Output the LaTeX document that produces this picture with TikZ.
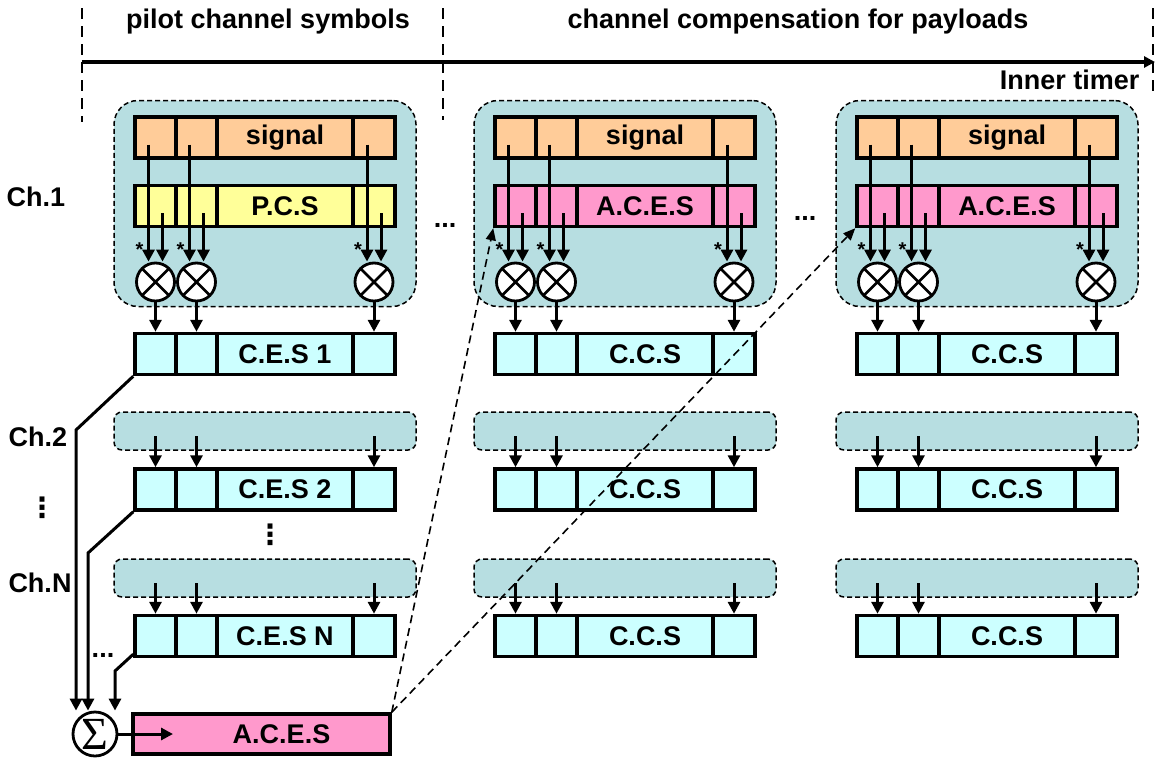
\documentclass[tikz,border=0pt]{standalone}
\usepackage{fontspec}
\setmainfont{Liberation Sans}
\newfontfamily\sigmafont{Liberation Serif}
\newfontfamily\dotsfont{DejaVu Sans}
\usetikzlibrary{arrows.meta,calc}

\definecolor{signalorange}{RGB}{255,204,153}
\definecolor{pcsyellow}{RGB}{255,255,153}
\definecolor{acespink}{RGB}{255,153,204}
\definecolor{cescyan}{RGB}{204,255,255}
\definecolor{groupteal}{RGB}{183,222,225}

\tikzset{
  every node/.style={font=\fontsize{27}{31}\selectfont\bfseries},
  cell/.style={draw, line width=3.5pt, minimum height=41, inner sep=0pt},
  group/.style={draw, dash pattern=on 5pt off 3pt, line width=1.5pt,
    rounded corners=24pt, fill=groupteal, inner sep=0pt},
  flatgroup/.style={group, rounded corners=8pt},
  mult/.style={circle, draw, line width=2.8pt, fill=white, minimum size=38pt,
    inner sep=0pt, path picture={
      \draw[line width=2.8pt] (path picture bounding box.north west) -- (path picture bounding box.south east)
        (path picture bounding box.north east) -- (path picture bounding box.south west);}},
  sumnode/.style={circle, draw, line width=2.8pt, minimum size=44pt, inner sep=0pt},
  conj/.style={font=\fontsize{20}{20}\selectfont\bfseries, inner sep=0pt},
  vdots/.style={inner sep=0pt, font=\dotsfont\fontsize{28}{28}\selectfont\bfseries},
  arr/.style={line width=3pt, -{Triangle[length=12pt,width=12pt]}},
  feed/.style={line width=3pt, -{Triangle[length=12pt,width=12pt]}},
  darr/.style={line width=1.6pt, dash pattern=on 8pt off 5pt, -{Triangle[length=12pt,width=10pt]}},
  timer/.style={line width=3.5pt, -{Triangle[length=11pt,width=11pt]}},
  mark line/.style={line width=2.2pt, dash pattern=on 11pt off 7pt},
}

% one bar of four cells: name, x offset, y centre, colour, text
\newcommand{\cellbar}[5]{%
  \node[cell, fill=#4, minimum width=41] (#1-1) at (#2+155.5,#3) {};
  \node[cell, fill=#4, minimum width=41] (#1-2) at (#2+196.5,#3) {};
  \node[cell, fill=#4, minimum width=136] (#1-3) at (#2+285,#3) {#5};
  \node[cell, fill=#4, minimum width=42] (#1-4) at (#2+374,#3) {};
}

\begin{document}
\begin{tikzpicture}[x=1pt,y=-1pt]
    \useasboundingbox (0,0) rectangle (1157,758);

    % Time line
    \draw[mark line] (82,8) -- (82,122);
    \draw[mark line] (443,8) -- (443,120);
    \draw[mark line] (1153,8) -- (1153,92);
    \coordinate (t0) at (82,62);
    \coordinate (t1) at (1155,62);
    \draw[timer] (t0) -- (t1);
    \node (pilot) at (268,22) {pilot channel symbols};
    \node (comp) at (798,22) {channel compensation for payloads};
    \node[anchor=east] (inner) at (1143,80) {Inner timer};

    % Channel labels
    \node (ch1) at (36,197) {Ch.1};
    \node (ch2) at (38,437) {Ch.2};
    \node[vdots] (chv) at (42,508) {⋮};
    \node (chN) at (40,583) {Ch.N};

    % Columns: estimation first, then compensation
    \foreach \col/\xo/\midtxt/\midcol/\ra/\rb/\rc in {
        1/0/P.C.S/pcsyellow/C.E.S 1/C.E.S 2/C.E.S N,
        2/360/A.C.E.S/acespink/C.C.S/C.C.S/C.C.S,
        3/722/A.C.E.S/acespink/C.C.S/C.C.S/C.C.S} {
      % Ch.1
      \node[group, minimum width=302, minimum height=206] (g\col) at (\xo+265,203.5) {};
      \cellbar{sig\col}{\xo}{137.5}{signalorange}{signal}
      \cellbar{mid\col}{\xo}{206}{\midcol}{\midtxt}
      \cellbar{r1c\col}{\xo}{354}{cescyan}{\ra}
      \foreach \k in {1,2,4} {
        \node[mult] (m\col-\k) at (sig\col-\k.center |- 0,282) {};
        \draw[arr] ([xshift=-7pt,yshift=-7pt]sig\col-\k.center) -- ([xshift=-7pt]m\col-\k.north);
        \draw[arr] ([xshift=7pt,yshift=-7pt]mid\col-\k.center) -- ([xshift=7pt]m\col-\k.north);
        \node[conj] at ([xshift=-16pt,yshift=12pt]m\col-\k.north) {*};
        \draw[arr] (m\col-\k.south) -- (r1c\col-\k.north);
      }
      % Ch.2
      \node[flatgroup, minimum width=302, minimum height=38] (h2c\col) at (\xo+265,431) {};
      \cellbar{r2c\col}{\xo}{489.5}{cescyan}{\rb}
      % Ch.N
      \node[flatgroup, minimum width=302, minimum height=38] (h3c\col) at (\xo+265,578) {};
      \cellbar{r3c\col}{\xo}{636}{cescyan}{\rc}
      \foreach \k in {1,2,4} {
        \draw[arr] ($(r2c\col-\k.north |- h2c\col.center)+(0,5)$) -- (r2c\col-\k.north);
        \draw[arr] ($(r3c\col-\k.north |- h3c\col.center)+(0,5)$) -- (r3c\col-\k.north);
      }
    }

    % Dots
    \node (dots12) at (445,225) {...};
    \node (dots23) at (805,218) {...};
    \node[vdots] (rowdots) at (270,535) {⋮};
    \node (chdots) at (103,655) {...};

    % Averaging of the channel estimates
    \node[sumnode] (sum) at (95,734) {\sigmafont\fontsize{46}{46}\selectfont\mdseries Σ};
    \node[cell, fill=acespink, minimum width=257, minimum height=40] (aces) at (261.5,734) {\hspace{40pt}A.C.E.S};
    \coordinate (ain) at (173,734);
    \draw[arr] (sum.east) -- (ain);
    \coordinate (k1) at (76,430);
    \coordinate (k2) at (88,553);
    \coordinate (kN) at (115,671);
    \draw[feed] (r1c1-1.south west) -- (k1) -- (k1 |- sum.north);
    \draw[feed] (r2c1-1.south west) -- (k2) -- (k2 |- sum.north);
    \draw[feed] ([yshift=4pt]r3c1-1.south west) -- (kN) -- (kN |- sum.north);

    % A.C.E.S handed on to the payloads
    \draw[darr] (aces.north east) -- (mid2-1.south west);
    \draw[darr] (aces.north east) -- (mid3-1.south west);
\end{tikzpicture}
\end{document}
